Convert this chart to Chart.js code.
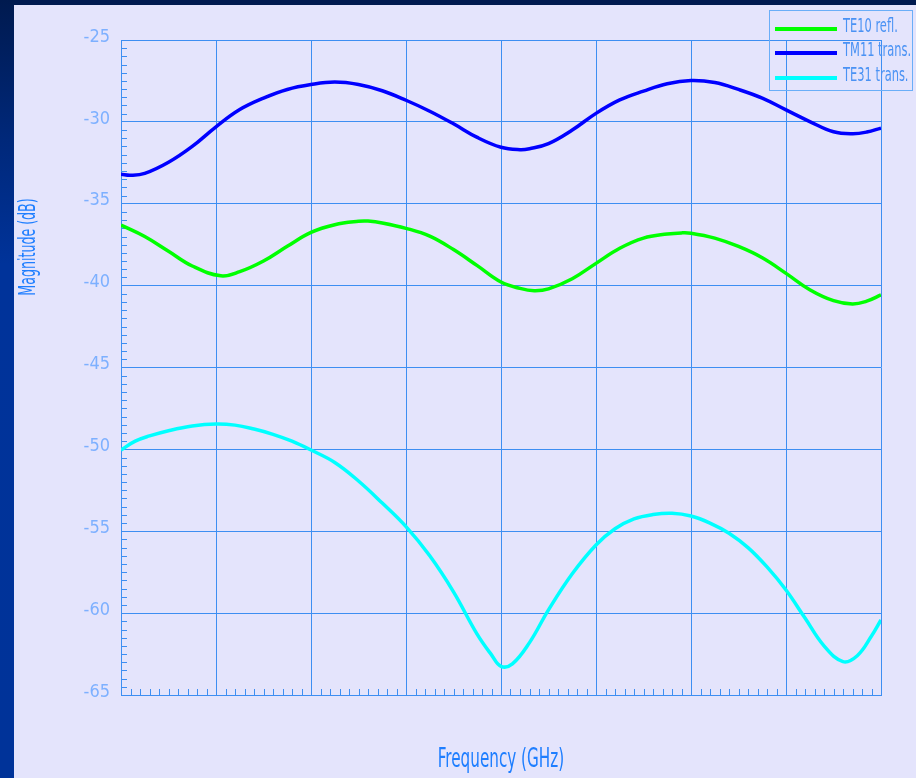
<!DOCTYPE html>
<html><head><meta charset="utf-8">
<script src="https://cdn.jsdelivr.net/npm/chart.js@4"></script>
<style>
html,body{margin:0;padding:0;}
body{width:916px;height:778px;position:relative;overflow:hidden;background:#e4e4fc;font-family:"DejaVu Sans Condensed","Liberation Sans Narrow",sans-serif;}
#topbar{position:absolute;left:0;top:0;width:916px;height:5px;background:#001a50;}
#leftbar{position:absolute;left:0;top:0;width:14px;height:778px;background:linear-gradient(to bottom,#001a4f 0%,#00287a 18%,#00339a 34%,#003399 100%);}
#chart{position:absolute;left:0;top:0;}
#legend{position:absolute;left:769px;top:10px;width:144px;height:81px;box-sizing:border-box;border:1px solid #6aaef8;}
.item{position:absolute;left:0;width:100%;height:20px;}
.sw{position:absolute;left:5px;top:8px;width:62px;height:4px;}
.lb{position:absolute;left:73px;top:-4px;line-height:20px;font-size:19px;color:#4a92f4;white-space:nowrap;transform:scaleX(0.67);transform-origin:0 50%;}
</style>
</head><body>
<div id="topbar"></div><div id="leftbar"></div>
<canvas id="chart" width="916" height="778"></canvas>
<div id="legend"></div>
<script>
// ---- data (x in grid divisions, 0..8) ----
const seriesNames = ["TE10 refl.", "TM11 trans.", "TE31 trans."];
const te10X = [0,0.25,0.5,0.75,1.05,1.25,1.5,1.75,2.0,2.25,2.5,2.6,2.75,3.0,3.25,3.5,3.75,4.0,4.2,4.35,4.5,4.75,5.0,5.25,5.5,5.75,5.9,6.0,6.25,6.5,6.75,7.0,7.25,7.5,7.7,7.85,8.0];
const te10Y = [-36.3,-37.0,-37.9,-38.8,-39.4,-39.15,-38.5,-37.6,-36.75,-36.28,-36.07,-36.06,-36.17,-36.5,-36.98,-37.8,-38.78,-39.78,-40.17,-40.31,-40.2,-39.58,-38.64,-37.72,-37.1,-36.85,-36.78,-36.8,-37.1,-37.61,-38.3,-39.25,-40.25,-40.92,-41.12,-40.95,-40.57];
const tm11X = [0,0.1,0.25,0.5,0.75,1.0,1.25,1.5,1.75,2.0,2.25,2.5,2.75,3.0,3.25,3.5,3.75,4.0,4.2,4.3,4.5,4.75,5.0,5.25,5.5,5.75,6.0,6.25,6.5,6.75,7.0,7.25,7.5,7.7,7.85,8.0];
const tm11Y = [-33.2,-33.26,-33.15,-32.47,-31.5,-30.3,-29.25,-28.55,-28.02,-27.72,-27.57,-27.72,-28.1,-28.68,-29.35,-30.12,-30.95,-31.55,-31.7,-31.64,-31.33,-30.5,-29.48,-28.66,-28.12,-27.67,-27.48,-27.6,-28.02,-28.55,-29.27,-29.98,-30.6,-30.72,-30.62,-30.38];
const te31X = [0,0.15,0.3,0.5,0.75,1.0,1.2,1.4,1.6,1.8,2.0,2.25,2.5,2.75,3.0,3.25,3.5,3.75,3.9,4.0,4.12,4.3,4.5,4.75,5.0,5.2,5.4,5.6,5.8,6.0,6.2,6.4,6.6,6.8,7.0,7.2,7.4,7.6,7.75,7.9,8.0];
const te31Y = [-50.04,-49.5,-49.18,-48.86,-48.57,-48.45,-48.52,-48.76,-49.08,-49.5,-50.04,-50.8,-51.93,-53.28,-54.72,-56.5,-58.7,-61.3,-62.55,-63.25,-63.1,-61.8,-59.8,-57.6,-55.84,-54.85,-54.25,-53.98,-53.9,-54.07,-54.5,-55.12,-56.0,-57.18,-58.59,-60.3,-62.0,-62.96,-62.6,-61.4,-60.42];
const seriesColors = ["#00ff00", "#0000ff", "#00ffff"];
const yTicks = [-65,-60,-55,-50,-45,-40,-35,-30,-25];
const xTitle = "Frequency (GHz)";
const yTitle = "Magnitude (dB)";

const pts = (xs, ys) => xs.map((x, i) => ({x: x, y: ys[i]}));
const gridColor = "#3d8ef2";
const FONT = '"DejaVu Sans Condensed", "Liberation Sans Narrow", sans-serif';

const decor = {
  id: "decor",
  beforeDatasetsDraw(chart) {
    const {ctx, chartArea: a, scales: {x, y}} = chart;
    ctx.save();
    ctx.strokeStyle = gridColor;
    ctx.lineWidth = 1;
    ctx.beginPath();
    for (let k = -650; k <= -250; k += 5) {
      if (k % 50 === 0) continue;
      const py = Math.round(y.getPixelForValue(k / 10)) + 0.5;
      ctx.moveTo(a.left, py); ctx.lineTo(a.left + 6, py);
    }
    for (let k = 0; k <= 80; k++) {
      if (k % 10 === 0) continue;
      const px = Math.round(x.getPixelForValue(k / 10)) + 0.5;
      ctx.moveTo(px, a.bottom); ctx.lineTo(px, a.bottom - 6);
    }
    ctx.stroke();
    ctx.restore();
  },
  afterDraw(chart) {
    const {ctx, chartArea: a} = chart;
    ctx.save();
    ctx.fillStyle = "#1e7eff";
    ctx.textBaseline = "alphabetic";
    ctx.textAlign = "center";
    // y axis title
    ctx.save();
    ctx.translate(35, 247);
    ctx.rotate(-Math.PI / 2);
    ctx.scale(0.61, 1);
    ctx.font = '23px ' + FONT;
    ctx.fillText(yTitle, 0, 0);
    ctx.restore();
    // x axis title
    ctx.save();
    ctx.translate((a.left + a.right) / 2, 767);
    ctx.scale(0.65, 1);
    ctx.font = '26px ' + FONT;
    ctx.fillText(xTitle, 0, 0);
    ctx.restore();
    ctx.restore();
  }
};

const chart = new Chart(document.getElementById("chart"), {
  type: "line",
  data: {
    datasets: [
      {label: seriesNames[0], data: pts(te10X, te10Y), borderColor: seriesColors[0], backgroundColor: seriesColors[0]},
      {label: seriesNames[1], data: pts(tm11X, tm11Y), borderColor: seriesColors[1], backgroundColor: seriesColors[1]},
      {label: seriesNames[2], data: pts(te31X, te31Y), borderColor: seriesColors[2], backgroundColor: seriesColors[2]}
    ]
  },
  options: {
    responsive: false,
    animation: false,
    devicePixelRatio: 1,
    layout: {padding: {left: 0, right: 35, top: 40, bottom: 0}},
    elements: {
      line: {borderWidth: 3.5, tension: 0.4, fill: false},
      point: {radius: 0, hoverRadius: 0}
    },
    plugins: {legend: {display: false}, tooltip: {enabled: false}},
    scales: {
      x: {
        type: "linear", min: 0, max: 8,
        ticks: {stepSize: 1, display: false},
        grid: {color: gridColor, lineWidth: 1, drawTicks: false},
        border: {color: gridColor, width: 1},
        title: {display: false, text: xTitle},
        afterFit(s) { s.height = 83; }
      },
      y: {
        type: "linear", min: -65, max: -25,
        afterBuildTicks(s) { s.ticks = yTicks.map(v => ({value: v})); },
        ticks: {color: "#7db0ff", padding: 11, labelOffset: -3,
          font: {family: FONT, size: 18}},
        grid: {color: gridColor, lineWidth: 1, drawTicks: false},
        border: {color: gridColor, width: 1},
        title: {display: false, text: yTitle},
        afterFit(s) { s.width = 121; }
      }
    }
  },
  plugins: [decor]
});

// HTML legend built from the chart's datasets
const leg = document.getElementById("legend");
chart.data.datasets.forEach((ds, i) => {
  const it = document.createElement("div");
  it.className = "item";
  it.style.top = (7.5 + 24.5 * i) + "px";
  const sw = document.createElement("div");
  sw.className = "sw"; sw.style.background = ds.borderColor;
  const lb = document.createElement("div");
  lb.className = "lb"; lb.textContent = ds.label;
  it.appendChild(sw); it.appendChild(lb);
  leg.appendChild(it);
});
</script>
</body></html>
